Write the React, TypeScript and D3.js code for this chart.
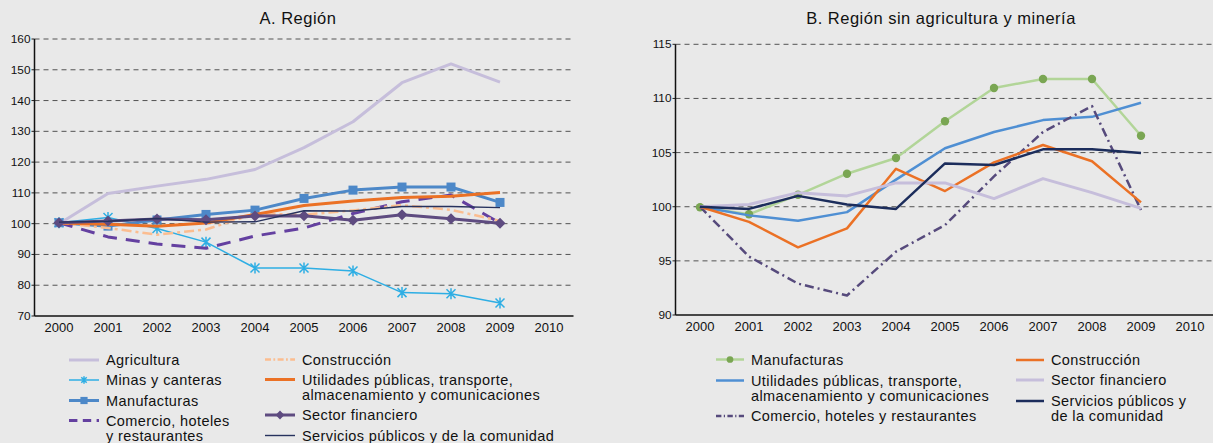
import React from "react";
import * as d3 from "d3";

const years = ["2000","2001","2002","2003","2004","2005","2006","2007","2008","2009","2010"];
const dataYears = years.slice(0, 10);

// Panel A
const ticksA = [70, 80, 90, 100, 110, 120, 130, 140, 150, 160];
const agriculturaA = [100, 109.8, 112.2, 114.4, 117.6, 124.7, 133.1, 145.8, 151.9, 146.0];
const minasA = [100.3, 102.0, 98.4, 94.0, 85.6, 85.6, 84.6, 77.6, 77.2, 74.2];
const manufacturasA = [100.3, 99.2, 101.2, 103.0, 104.4, 108.2, 110.9, 111.9, 111.9, 106.9];
const comercioA = [100.3, 95.7, 93.4, 92.0, 96.0, 98.6, 103.3, 107.1, 109.3, 100.2];
const construccionA = [100.3, 98.6, 96.4, 98.1, 103.2, 102.9, 104.3, 106.0, 104.5, 100.9];
const utilidadesA = [100.2, 99.8, 99.2, 100.2, 103.0, 105.9, 107.4, 108.5, 108.9, 110.1];
const financieroA = [100.3, 100.9, 101.5, 101.3, 102.5, 102.6, 101.1, 102.9, 101.6, 100.1];
const serviciosA = [100.5, 100.8, 101.7, 100.5, 100.6, 104.2, 104.1, 105.6, 105.6, 105.2];

// Panel B
const ticksB = [90, 95, 100, 105, 110, 115];
const manufacturasB = [99.95, 99.3, 101.1, 103.05, 104.5, 107.9, 110.97, 111.8, 111.8, 106.55];
const utilidadesB = [100.0, 99.2, 98.7, 99.5, 102.5, 105.4, 106.9, 108.0, 108.3, 109.6];
const comercioB = [100.0, 95.4, 92.9, 91.8, 95.85, 98.3, 102.8, 106.9, 109.3, 99.7];
const construccionB = [100.0, 98.6, 96.25, 98.0, 103.5, 101.45, 104.1, 105.7, 104.2, 100.4];
const financieroB = [100.0, 100.2, 101.3, 101.0, 102.2, 102.2, 100.75, 102.6, 101.3, 99.85];
const serviciosB = [100.0, 99.8, 101.0, 100.2, 99.8, 104.0, 103.85, 105.3, 105.3, 104.96];

const FONT = "'Liberation Sans', Arial, sans-serif";
const BG = "#e9e9e9";

type Series = {
  name: string[];
  values: number[];
  color: string;
  width: number;
  dash?: string;
  marker?: "square" | "diamond" | "asterisk" | "circle";
  markerColor?: string;
};

const seriesA: Series[] = [
  { name: ["Agricultura"], values: agriculturaA, color: "#c6bedb", width: 3 },
  { name: ["Minas y canteras"], values: minasA, color: "#2eaee4", width: 1.5, marker: "asterisk" },
  { name: ["Manufacturas"], values: manufacturasA, color: "#4d88c8", width: 3, marker: "square" },
  { name: ["Comercio, hoteles", "y restaurantes"], values: comercioA, color: "#6440a0", width: 3, dash: "14,9" },
  { name: ["Construcción"], values: construccionA, color: "#fbbd90", width: 2.5, dash: "10,4,3,4" },
  { name: ["Utilidades públicas, transporte,", "almacenamiento y comunicaciones"], values: utilidadesA, color: "#eb7125", width: 3 },
  { name: ["Sector financiero"], values: financieroA, color: "#5e4b80", width: 3, marker: "diamond" },
  { name: ["Servicios públicos y de la comunidad"], values: serviciosA, color: "#27325e", width: 1.4 },
];

const seriesB: Series[] = [
  { name: ["Manufacturas"], values: manufacturasB, color: "#b2d598", width: 2.5, marker: "circle", markerColor: "#7aa653" },
  { name: ["Utilidades públicas, transporte,", "almacenamiento y comunicaciones"], values: utilidadesB, color: "#4f8fd3", width: 2.5 },
  { name: ["Comercio, hoteles y restaurantes"], values: comercioB, color: "#564a7c", width: 2.5, dash: "9,4,2,4" },
  { name: ["Construcción"], values: construccionB, color: "#eb7125", width: 2.5 },
  { name: ["Sector financiero"], values: financieroB, color: "#c6bedb", width: 3 },
  { name: ["Servicios públicos y", "de la comunidad"], values: serviciosB, color: "#1c2d5c", width: 2.5 },
];

function Marker({ kind, x, y, color, size = 1 }: { kind?: string; x: number; y: number; color: string; size?: number }) {
  if (!kind) return null;
  if (kind === "square") {
    const s = 9 * size;
    return <rect x={x - s / 2} y={y - s / 2} width={s} height={s} fill={color} />;
  }
  if (kind === "diamond") {
    const s = 5.5 * size;
    return <path d={`M${x},${y - s}L${x + s},${y}L${x},${y + s}L${x - s},${y}Z`} fill={color} />;
  }
  if (kind === "circle") {
    return <circle cx={x} cy={y} r={4.2 * size} fill={color} />;
  }
  if (kind === "asterisk") {
    const s = 4.5 * size;
    return (
      <path
        d={`M${x - s},${y - s}L${x + s},${y + s}M${x - s},${y + s}L${x + s},${y - s}M${x},${y - s - 1}L${x},${y + s + 1}`}
        stroke={color}
        strokeWidth={1.5}
        fill="none"
      />
    );
  }
  return null;
}

type PanelProps = {
  title: string;
  titleX: number;
  x0: number;
  gridEnd: number;
  yTop: number;
  yBottom: number;
  domain: [number, number];
  ticks: number[];
  series: Series[];
};

function Panel({ title, titleX, x0, gridEnd, yTop, yBottom, domain, ticks, series }: PanelProps) {
  const x = d3.scaleBand<string>().domain(years).range([x0, x0 + 49 * 11]).padding(0);
  const y = d3.scaleLinear().domain(domain).range([yBottom, yTop]);
  const cx = (yr: string) => (x(yr) as number) + x.bandwidth() / 2;
  const line = d3
    .line<number>()
    .x((_, i) => cx(dataYears[i]))
    .y((v) => y(v));

  return (
    <g>
      <text x={titleX} y={23.5} textAnchor="middle" fontSize={16.5} letterSpacing={0.5} fontFamily={FONT} fill="#111">
        {title}
      </text>
      {ticks.map((t) => (
        <g key={t}>
          {t !== domain[0] && (
            <line x1={x0} x2={gridEnd} y1={y(t)} y2={y(t)} stroke="#3a3a3a" strokeWidth={1} strokeDasharray="5,4" opacity={0.85} />
          )}
          <line x1={x0 - 3} x2={x0} y1={y(t)} y2={y(t)} stroke="#222" strokeWidth={1} />
          <text x={x0 - 4} y={y(t) + 4} textAnchor="end" fontSize={11.8} fontFamily={FONT} fill="#111">
            {t}
          </text>
        </g>
      ))}
      <line x1={x0} x2={x0} y1={yTop} y2={yBottom} stroke="#111" strokeWidth={1.5} />
      <line x1={x0} x2={gridEnd} y1={yBottom} y2={yBottom} stroke="#111" strokeWidth={1.5} />
      {years.map((yr) => (
        <text key={yr} x={cx(yr)} y={yBottom + 16} textAnchor="middle" fontSize={13} fontFamily={FONT} fill="#111">
          {yr}
        </text>
      ))}
      {series.map((s, i) => (
        <g key={i}>
          <path d={line(s.values) || ""} fill="none" stroke={s.color} strokeWidth={s.width} strokeDasharray={s.dash} strokeLinejoin="round" />
          {s.values.map((v, j) => (
            <Marker key={j} kind={s.marker} x={cx(dataYears[j])} y={y(v)} color={s.markerColor || s.color} />
          ))}
        </g>
      ))}
    </g>
  );
}

type LegendItem = { s: Series; lx: number; ly: number };

function Legend({ items, sampleW }: { items: LegendItem[]; sampleW: number }) {
  return (
    <g>
      {items.map(({ s, lx, ly }, i) => (
        <g key={i}>
          <line x1={lx} x2={lx + sampleW} y1={ly} y2={ly} stroke={s.color} strokeWidth={s.width} strokeDasharray={s.dash ? s.dash.split(",").map((d) => +d * 0.6).join(",") : undefined} />
          <Marker kind={s.marker} x={lx + sampleW / 2} y={ly} color={s.markerColor || s.color} size={s.marker === "asterisk" ? 0.6 : 0.8} />
          {s.name.map((n, k) => (
            <text key={k} x={lx + sampleW + 7} y={ly + 5 + k * 15} fontSize={14.5} letterSpacing={0.4} fontFamily={FONT} fill="#111">
              {n}
            </text>
          ))}
        </g>
      ))}
    </g>
  );
}

export default function App() {
  const legendA: LegendItem[] = [
    { s: seriesA[0], lx: 69, ly: 360 },
    { s: seriesA[1], lx: 69, ly: 380 },
    { s: seriesA[2], lx: 69, ly: 400.5 },
    { s: seriesA[3], lx: 69, ly: 420.5 },
    { s: seriesA[4], lx: 265, ly: 359.5 },
    { s: seriesA[5], lx: 265, ly: 379.5 },
    { s: seriesA[6], lx: 265, ly: 415 },
    { s: seriesA[7], lx: 265, ly: 435.5 },
  ];
  const legendB: LegendItem[] = [
    { s: seriesB[0], lx: 716, ly: 359.5 },
    { s: seriesB[1], lx: 716, ly: 380.5 },
    { s: seriesB[2], lx: 716, ly: 416 },
    { s: seriesB[3], lx: 1016, ly: 360 },
    { s: seriesB[4], lx: 1016, ly: 380 },
    { s: seriesB[5], lx: 1016, ly: 401 },
  ];
  return (
    <svg
      width={1213}
      height={443}
      style={{ position: "absolute", left: 0, top: 0, display: "block" }}
    >
      <rect x={0} y={0} width={1213} height={443} fill={BG} />
      <Panel title="A. Región" titleX={298} x0={34.5} gridEnd={573.5} yTop={39} yBottom={316} domain={[70, 160]} ticks={ticksA} series={seriesA} />
      <Panel title="B. Región sin agricultura y minería" titleX={941} x0={675.5} gridEnd={1213} yTop={44.3} yBottom={315} domain={[90, 115]} ticks={ticksB} series={seriesB} />
      <Legend items={legendA} sampleW={30} />
      <Legend items={legendB} sampleW={28} />
    </svg>
  );
}
